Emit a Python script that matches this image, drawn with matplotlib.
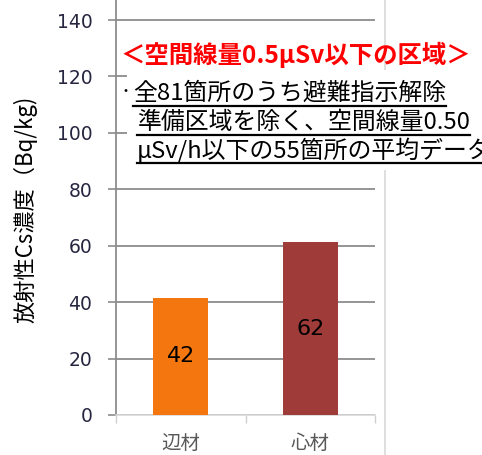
import matplotlib
matplotlib.use("Agg")
from matplotlib import pyplot as plt
from matplotlib.lines import Line2D
from matplotlib.patches import Rectangle
import numpy as np

plt.rcParams['font.family'] = ['Noto Sans CJK JP', 'DejaVu Sans']

categories = ['辺材', '心材']
values = [41.5, 61.2]
value_labels = ['42', '62']
bar_colors = ['#F3760F', '#9F3B38']
yticks = [0, 20, 40, 60, 80, 100, 120, 140]

title_text = '＜空間線量0.5μSv以下の区域＞'
note_lines = ['全81箇所のうち避難指示解除',
              '準備区域を除く、空間線量0.50',
              'μSv/h以下の55箇所の平均データ']
ylabel = '放射性Cs濃度（Bq/kg)'

W, H = 482, 455
fig = plt.figure(figsize=(W / 100, H / 100), dpi=100)
ax = fig.add_axes([116 / W, 1 - 415 / H, (375 - 116) / W, 415 / H])

x = np.arange(len(categories))
bars = ax.bar(x, values, width=0.425, color=bar_colors, zorder=3)
for b, v, lab in zip(bars, values, value_labels):
    ax.text(b.get_x() + b.get_width() / 2, v / 2, lab, ha='center', va='center',
            fontsize=16, color='black', family='DejaVu Sans', zorder=4)

ax.set_xlim(-0.5, 1.5)
ax.set_ylim(0, 147.1)
ax.set_yticks(yticks)
ax.yaxis.grid(True, color='#8C8C8C', linewidth=1.3, zorder=0)
ax.tick_params(axis='y', length=6, width=1.2, color='#8C8C8C', labelsize=13.5,
               labelcolor='#262640', pad=11)
for t in ax.get_yticklabels():
    t.set_family('DejaVu Sans')
ax.set_xticks(x)
ax.set_xticklabels(categories, fontsize=14, color='#595959')
ax.tick_params(axis='x', length=0, pad=13)
ax.set_xticks([-0.5, 0.5, 1.5], minor=True)
ax.tick_params(axis='x', which='minor', length=6, width=1, color='#D0D0D0')
for s in ['top', 'right']:
    ax.spines[s].set_visible(False)
ax.spines['left'].set_color('#8C8C8C')
ax.spines['left'].set_linewidth(1.3)
ax.spines['bottom'].set_color('#D9D9D9')
ax.spines['bottom'].set_linewidth(1.2)

fig.text(25 / W, 1 - 209 / H, ylabel, rotation=90, ha='center', va='center',
         fontsize=16, color='black')

# chart area border on the right
fig.add_artist(Line2D([385 / W, 385 / W], [0, 1], color='#D9D9D9', linewidth=1.2))

# white box behind notes
fig.add_artist(Rectangle((127 / W, 1 - 170 / H), (W - 127) / W, 100 / H,
                         facecolor='white', edgecolor='none', transform=fig.transFigure,
                         zorder=2))

fig.text(121 / W, 1 - 55 / H, title_text, ha='left', va='center', fontsize=17.6,
         fontweight='bold', color='#FF0000', zorder=5)

fig.text(119 / W, 1 - 92 / H, '・', ha='left', va='center', fontsize=10, color='black',
         zorder=5)
note_pos = [(133, 93), (137, 122), (137, 150)]
note_texts = []
for (px, py), line in zip(note_pos, note_lines):
    note_texts.append(fig.text(px / W, 1 - py / H, line, ha='left', va='center',
                               fontsize=17.2, color='black', zorder=5))

fig.canvas.draw()
r = fig.canvas.get_renderer()
inv = fig.transFigure.inverted()
for t, (px, py) in zip(note_texts, note_pos):
    bb = t.get_window_extent(r)
    (x0, y0), (x1, y1) = inv.transform([[bb.x0, bb.y0], [bb.x1, bb.y1]])
    uy = 1 - (py + 13) / H
    fig.add_artist(Line2D([x0, min(x1, 1)], [uy, uy], color='black', linewidth=1.6,
                          zorder=5))

fig.savefig('out.png', dpi=100)
